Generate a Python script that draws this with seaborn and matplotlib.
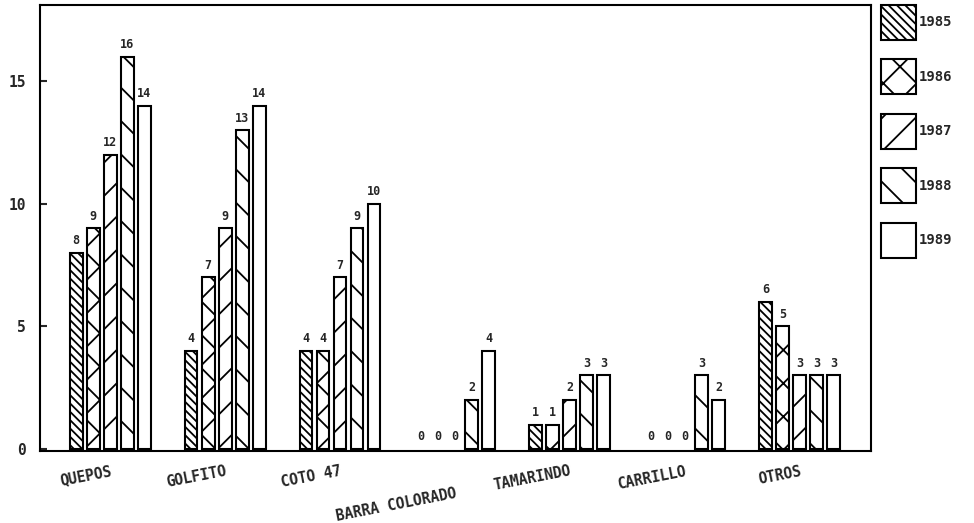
import matplotlib
matplotlib.use("Agg")
import matplotlib.pyplot as plt
import matplotlib.transforms as mtransforms
from matplotlib.patches import Patch
import seaborn as sns
import pandas as pd

sites = ["QUEPOS", "GOLFITO", "COTO 47", "BARRA COLORADO", "TAMARINDO", "CARRILLO", "OTROS"]
years = ["1985", "1986", "1987", "1988", "1989"]
v1985 = [8, 4, 4, 0, 1, 0, 6]
v1986 = [9, 7, 4, 0, 1, 0, 5]
v1987 = [12, 9, 7, 0, 2, 0, 3]
v1988 = [16, 13, 9, 2, 3, 3, 3]
v1989 = [14, 14, 10, 4, 3, 2, 3]
yticks = [0, 5, 10, 15]

series = [v1985, v1986, v1987, v1988, v1989]
rows = []
for yr, vals in zip(years, series):
    for s, v in zip(sites, vals):
        rows.append({"site": s, "year": yr, "count": v})
df = pd.DataFrame(rows)

sns.set_style("white")
plt.rcParams["font.family"] = ["DejaVu Sans Mono", "DejaVu Sans"]
plt.rcParams["font.weight"] = "bold"
plt.rcParams["hatch.linewidth"] = 1.3

fig = plt.figure(figsize=(9.74, 5.23), dpi=100)
ax = fig.add_axes([40 / 974, 1 - 451 / 523, (871 - 40) / 974, (451 - 5) / 523])

hatches = ["\\\\\\\\", "x", "/", "\\", ""]
sns.barplot(data=df, x="site", y="count", hue="year", order=sites, hue_order=years,
            palette=["white"] * 5, edgecolor="black", linewidth=1.5,
            width=0.74, gap=0.24, errorbar=None, ax=ax, legend=False)

for cont, h in zip(ax.containers, hatches):
    for bar in cont:
        bar.set_hatch(h)
        if bar.get_height() == 0:
            bar.set_linewidth(0)
    ax.bar_label(cont, padding=4, fontsize=8.5, fontweight="bold")

ax.set_xlim(-0.61, 6.62)
ax.set_ylim(-0.08, 18.1)
ax.set_yticks(yticks)
ax.set_xlabel("")
ax.set_ylabel("")
for sp in ax.spines.values():
    sp.set_visible(True)
    sp.set_color("black")
    sp.set_linewidth(1.5)

ax.tick_params(axis="y", direction="in", length=5, width=1.5, left=True, pad=10, labelsize=10.5)
ax.tick_params(axis="x", length=0, pad=9, labelsize=10.5)
for i, lbl in enumerate(ax.get_xticklabels()):
    lbl.set_rotation(11)
    lbl.set_ha("right")
    lbl.set_rotation_mode("anchor")
    if sites[i] == "BARRA COLORADO":
        lbl.set_transform(lbl.get_transform() + mtransforms.ScaledTranslation(0, -0.22, fig.dpi_scale_trans))

handles = [Patch(facecolor="white", edgecolor="black", hatch=h, linewidth=1.5) for h in hatches]
fig.legend(handles, years, loc="upper left", bbox_to_anchor=(881 / 974, 1 - 5 / 523),
           frameon=False, fontsize=10, handlelength=2.5, handleheight=3.5,
           labelspacing=1.4, handletextpad=0.25, borderaxespad=0, borderpad=0)

fig.savefig("out.png", dpi=100, facecolor="white")
